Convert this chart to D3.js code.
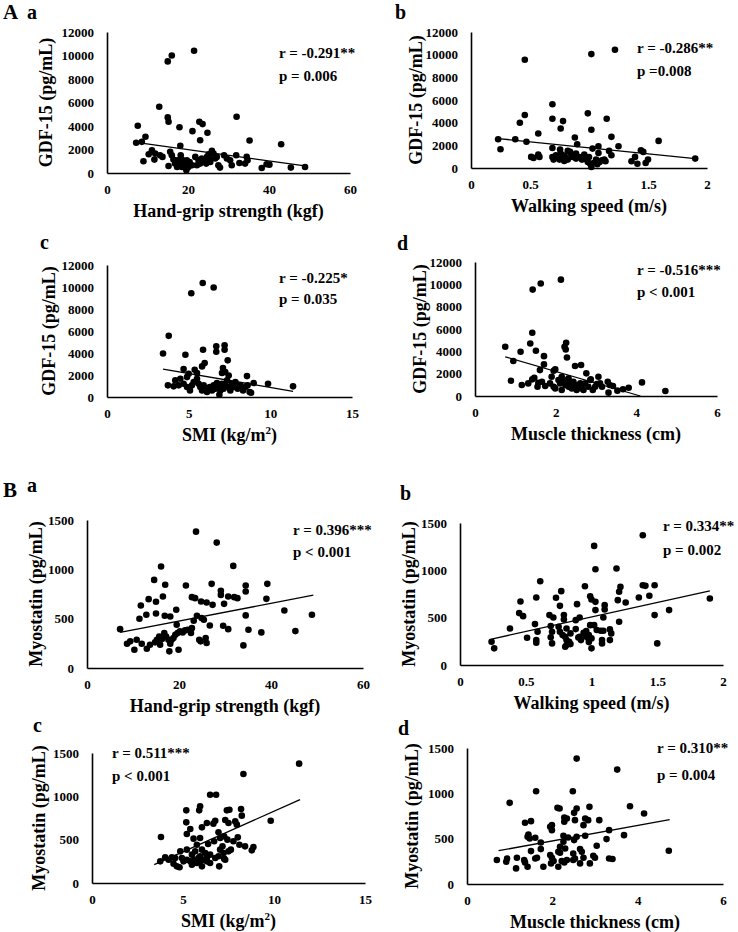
<!DOCTYPE html>
<html><head><meta charset="utf-8">
<script src="https://cdn.jsdelivr.net/npm/d3@7/dist/d3.min.js"></script>
<style>
html,body{margin:0;padding:0;background:#fff;}
svg{display:block;}
text{font-family:"Liberation Serif","Times New Roman",serif;font-weight:bold;fill:#000;}
</style></head>
<body>
<svg id="chart" width="738" height="932"></svg>
<script>
// ---------- DATA ----------
const gdfGrip = [[16.0,10000],[15.0,9500],[21.5,10400],[12.9,5640],[15.0,4730],[15.2,4360],[7.6,4020],[17.9,3900],[22.8,4360],[23.6,4160],[32.0,4790],[21.1,3560],[24.8,3420],[23.0,2790],[35.2,2770],[9.5,3080],[7.2,2570],[8.6,2650],[18.1,2310],[43.0,2450],[11.1,1940],[11.9,1650],[10.3,1600],[13.1,1510],[13.7,1370],[9.0,1000],[11.7,1140],[15.6,1800],[16.0,1510],[16.4,1140],[15.2,600],[16.8,800],[17.4,1080],[18.5,1140],[19.1,740],[18.5,510],[19.6,230],[19.7,1080],[20.4,940],[21.0,660],[22.2,660],[23.0,800],[23.4,1230],[23.8,1080],[24.7,1370],[25.1,1600],[25.5,940],[25.9,1880],[26.3,1650],[26.7,1230],[27.5,660],[27.9,460],[28.9,1510],[29.6,1230],[30.4,1080],[30.8,660],[31.9,1510],[32.7,850],[34.1,800],[34.5,1370],[34.7,1080],[38.2,430],[39.4,740],[40.1,710],[45.4,460],[48.9,510],[21.8,1370],[22.6,1080],[17.3,510],[18.1,800],[20.1,510],[25.3,1230],[27.1,1370],[18.2,1510],[24.5,800]];
const gdfWalk = [[0.456,9550],[1.02,10050],[1.22,10430],[0.69,5620],[0.456,4670],[0.99,4820],[0.414,3990],[0.69,4350],[0.78,4140],[1.15,4350],[0.76,3490],[1.02,3370],[0.57,3040],[0.23,2540],[0.375,2540],[0.47,2310],[0.88,2690],[1.19,2750],[1.59,2390],[0.25,1660],[0.90,2100],[0.69,1770],[1.03,1710],[1.08,1920],[1.25,1920],[0.755,1630],[0.82,1510],[1.08,1330],[1.17,1510],[1.19,1120],[0.51,980],[0.53,890],[0.57,1180],[0.58,980],[0.69,975],[0.70,740],[0.72,1120],[0.73,975],[0.75,740],[0.76,1270],[0.78,1120],[0.80,975],[0.82,740],[0.84,1420],[0.85,1180],[0.86,975],[0.89,830],[0.92,975],[0.94,740],[0.96,1180],[0.97,975],[0.98,740],[0.99,530],[1.00,975],[1.01,380],[1.02,90],[1.04,440],[1.06,740],[1.07,330],[1.09,530],[1.11,680],[1.13,740],[1.14,590],[0.79,620],[0.89,1270],[1.36,590],[1.39,980],[1.41,380],[1.44,1570],[1.46,1420],[1.48,440],[1.50,740],[1.90,830]];
const gdfSmi = [[5.86,10370],[5.16,9430],[6.53,9950],[3.78,5560],[3.43,3960],[4.80,3840],[5.88,4290],[6.69,4620],[6.69,4110],[7.20,4710],[7.20,4290],[7.39,3330],[5.98,3080],[5.82,2780],[4.69,2540],[5.37,2480],[7.10,2630],[7.24,2270],[7.04,2180],[7.45,1960],[8.57,1900],[5.0,2120],[5.51,2180],[4.9,1810],[4.49,1660],[4.18,1510],[3.73,1060],[4.08,970],[4.69,1210],[5.08,600],[4.39,1060],[4.90,910],[5.20,1060],[5.31,1360],[5.51,1660],[5.61,1210],[5.71,910],[5.82,600],[5.92,1060],[6.02,760],[6.12,450],[6.29,910],[6.43,600],[6.53,1060],[6.63,760],[6.73,1270],[6.84,910],[6.94,600],[7.04,1210],[7.14,760],[7.24,1060],[7.35,1510],[7.45,910],[7.55,600],[7.65,1210],[7.76,910],[7.86,1360],[8.0,760],[8.16,1060],[8.33,600],[8.47,910],[8.61,1060],[8.73,450],[6.88,210],[8.82,390],[8.98,1270],[9.86,1210],[11.39,970]];
const gdfMuscle = [[1.43,9530],[1.63,10070],[2.13,10420],[1.42,5660],[0.75,4410],[1.37,4700],[2.26,4760],[2.22,4410],[2.25,4170],[1.13,3960],[1.51,4050],[1.71,3570],[2.28,3450],[0.95,3130],[1.71,2830],[1.99,2380],[2.48,2680],[2.63,2770],[1.61,2320],[1.95,2260],[2.76,2030],[1.90,1730],[1.47,1640],[1.42,1490],[2.15,1730],[0.89,1370],[1.16,980],[1.32,1130],[1.55,830],[2.32,1580],[1.57,1190],[1.66,1280],[1.74,890],[1.86,1130],[1.95,830],[1.99,680],[2.07,1430],[2.11,1130],[2.15,540],[2.19,1280],[2.24,980],[2.28,1430],[2.32,830],[2.36,1130],[2.40,680],[2.44,1280],[2.48,980],[2.52,540],[2.57,830],[2.61,1130],[2.65,680],[2.69,540],[2.73,1130],[2.81,830],[2.86,1430],[2.92,540],[2.98,830],[3.02,1070],[3.10,1130],[3.15,830],[2.87,1490],[3.06,1730],[3.29,1280],[3.34,980],[3.31,300],[3.42,890],[3.53,480],[3.67,600],[3.81,740],[4.14,1220],[4.72,450]];
const myoGrip = [[23.7,1382],[28.2,1271],[31.8,1035],[16.1,1028],[14.6,893],[17.0,843],[21.5,836],[27.1,853],[34.5,836],[39.2,853],[29.1,782],[34.5,775],[13.4,698],[16.5,725],[15.0,671],[22.8,718],[23.5,708],[24.8,674],[26.0,664],[27.3,640],[29.1,741],[30.7,725],[32.0,718],[32.7,708],[39.0,701],[29.8,650],[11.7,634],[12.9,539],[15.0,553],[16.9,529],[18.1,522],[19.4,590],[11.4,499],[23.9,529],[24.9,506],[25.4,489],[23.2,479],[34.5,533],[42.9,583],[48.9,539],[19.5,438],[26.7,431],[29.6,428],[30.7,394],[35.1,388],[37.9,361],[45.3,374],[7.2,394],[8.7,246],[9.4,270],[10.8,286],[10.3,185],[11.9,246],[13.0,195],[13.7,236],[14.8,260],[15.2,286],[15.9,236],[15.7,320],[16.3,293],[16.8,354],[17.2,320],[17.7,286],[17.9,169],[18.1,246],[18.4,286],[18.8,303],[19.2,337],[19.7,354],[19.9,185],[20.2,371],[20.8,361],[21.3,381],[21.9,388],[22.6,354],[22.8,404],[24.4,286],[24.7,270],[25.8,303],[26.0,253],[34.0,229]];
const myoWalk = [[1.39,1370],[1.02,1258],[1.03,1012],[1.19,1019],[0.61,885],[0.95,832],[1.22,825],[1.39,843],[1.41,836],[1.48,843],[0.77,780],[1.21,773],[1.44,731],[0.73,710],[0.99,727],[1.00,692],[1.03,667],[1.36,713],[1.90,702],[0.46,671],[0.58,713],[0.76,625],[0.89,643],[1.10,632],[1.20,685],[1.26,660],[0.45,548],[0.48,516],[0.68,527],[0.71,502],[0.79,527],[0.79,481],[0.91,502],[0.88,474],[1.03,580],[1.10,587],[1.09,502],[1.21,457],[1.48,527],[1.59,580],[0.57,432],[0.38,386],[0.59,351],[0.69,411],[0.70,351],[0.75,404],[0.76,351],[0.78,316],[0.81,386],[0.84,334],[0.88,379],[0.91,299],[0.94,341],[0.96,358],[0.98,316],[0.99,421],[1.00,281],[1.02,421],[1.04,369],[1.07,362],[1.09,362],[1.14,376],[1.15,334],[0.69,292],[0.80,299],[0.81,263],[0.83,246],[0.81,211],[0.80,193],[0.84,221],[0.92,263],[0.96,299],[0.98,270],[0.98,242],[1.08,263],[1.08,228],[0.51,288],[0.24,246],[0.26,176],[0.58,263],[0.58,235],[0.70,228],[0.90,291],[1.00,176],[1.14,263],[1.50,228]];
const myoSmi = [[11.38,1377],[8.32,1258],[6.49,1019],[6.82,1019],[5.94,885],[5.18,838],[5.89,838],[7.41,838],[7.55,846],[8.19,854],[8.23,777],[6.77,719],[6.31,692],[6.04,642],[5.18,700],[5.40,623],[7.32,727],[7.50,692],[7.87,711],[7.96,673],[9.82,719],[6.67,685],[6.95,585],[7.04,519],[5.94,519],[5.58,512],[5.21,565],[3.79,531],[7.26,538],[7.44,500],[7.77,481],[8.01,527],[8.10,442],[8.41,423],[6.38,450],[6.71,481],[7.17,423],[7.63,385],[6.04,385],[5.76,442],[8.87,415],[8.78,377],[4.85,365],[5.21,385],[7.04,385],[5.49,327],[5.67,365],[5.94,308],[6.22,346],[6.31,288],[6.49,327],[6.77,288],[6.95,308],[7.23,346],[7.32,269],[7.50,365],[5.40,250],[5.49,212],[5.62,269],[5.76,231],[5.85,288],[5.94,250],[6.04,192],[6.13,269],[6.31,250],[6.49,231],[5.21,269],[4.57,288],[3.75,250],[4.02,296],[4.21,269],[4.39,296],[4.48,223],[4.66,192],[4.81,181],[4.94,288],[5.03,250],[6.99,192],[7.26,281]];
const myoMuscle = [[2.57,1383],[3.52,1262],[1.62,1023],[2.48,1023],[1.00,895],[2.12,840],[2.17,832],[2.57,833],[2.87,851],[3.82,858],[4.15,777],[2.51,785],[2.28,733],[2.34,722],[2.53,704],[2.77,722],[2.84,704],[3.10,704],[1.36,675],[1.50,693],[2.28,686],[2.73,649],[1.99,649],[1.99,594],[1.95,631],[3.33,594],[1.44,546],[1.42,521],[1.47,502],[1.60,510],[2.26,532],[2.37,513],[2.57,521],[2.77,532],[3.68,539],[1.73,458],[2.26,466],[2.51,484],[3.27,495],[1.50,363],[1.73,385],[2.18,411],[2.30,392],[2.65,385],[2.69,356],[3.04,422],[1.95,319],[1.99,290],[2.14,356],[2.18,345],[2.49,337],[2.53,282],[2.96,312],[3.00,290],[0.70,264],[0.94,282],[0.92,246],[1.17,290],[1.15,172],[1.34,264],[1.36,238],[1.42,191],[1.60,282],[1.64,290],[1.79,191],[1.97,227],[2.03,253],[2.14,191],[2.22,253],[2.28,238],[2.34,264],[2.49,264],[2.65,227],[2.88,227],[3.33,282],[3.41,275],[4.73,367],[2.73,290]];

// trend line end points (x, y)
const trendGdfGrip = [[7.2,2600],[48.9,600]];
const trendGdfWalk = [[0.23,2600],[1.90,830]];
const trendGdfSmi = [[3.43,2540],[11.39,510]];
const trendGdfMuscle = [[0.75,3510],[4.10,0]];
const trendMyoGrip = [[7.2,361],[49.2,738]];
const trendMyoWalk = [[0.24,274],[1.90,783]];
const trendMyoSmi = [[3.42,212],[11.43,962]];
const trendMyoMuscle = [[0.74,367],[4.75,711]];

// tick labels
const gdfTicks = [0,2000,4000,6000,8000,10000,12000];
const myoTicks = [0,500,1000,1500];
const gripTicks = [0,20,40,60];
const walkTicks = [0,0.5,1,1.5,2];
const smiTicks = [0,5,10,15];
const muscleTicks = [0,2,4,6];

// texts
const statsR = ["r = -0.291**","r = -0.286**","r = -0.225*","r = -0.516***","r = 0.396***","r = 0.334**","r = 0.511***","r = 0.310**"];
const statsP = ["p = 0.006","p =0.008","p = 0.035","p < 0.001","p < 0.001","p = 0.002","p < 0.001","p = 0.004"];
const xTitles = ["Hand-grip strength (kgf)","Walking speed (m/s)","SMI (kg/m|2|)","Muscle thickness (cm)","Hand-grip strength (kgf)","Walking speed (m/s)","SMI (kg/m|2|)","Muscle thickness (cm)"];
const yTitles = ["GDF-15 (pg/mL)","Myostatin (pg/mL)"];
const subLabels = ["a","b","c","d","a","b","c","d"];
const groupLabels = ["A","B"];

// ---------- LAYOUT ----------
const svg = d3.select("#chart");
const L = [
 {pts:gdfGrip, tr:trendGdfGrip, xt:gripTicks, yt:gdfTicks, yTitle:0, left:107,right:350,top:32,bottom:173, ytx:-61, rx:279, ry:58, py:81, lx:27, ly:19},
 {pts:gdfWalk, tr:trendGdfWalk, xt:walkTicks, yt:gdfTicks, yTitle:0, left:471,right:707,top:32,bottom:168, ytx:-55, rx:637, ry:53, py:76, lx:395, ly:19},
 {pts:gdfSmi, tr:trendGdfSmi, xt:smiTicks, yt:gdfTicks, yTitle:0, left:107,right:352,top:265,bottom:397, ytx:-58, rx:279, ry:283, py:304, lx:40, ly:249},
 {pts:gdfMuscle, tr:trendGdfMuscle, xt:muscleTicks, yt:gdfTicks, yTitle:0, left:475,right:717,top:262,bottom:396, ytx:-55, rx:637, ry:275, py:297, lx:397, ly:250},
 {pts:myoGrip, tr:trendMyoGrip, xt:gripTicks, yt:myoTicks, yTitle:1, left:87,right:363,top:520,bottom:668, ytx:-51, rx:293, ry:535, py:557, lx:27, ly:492},
 {pts:myoWalk, tr:trendMyoWalk, xt:walkTicks, yt:myoTicks, yTitle:1, left:460,right:723,top:523,bottom:665, ytx:-51, rx:663, ry:531, py:555, lx:400, ly:500},
 {pts:myoSmi, tr:trendMyoSmi, xt:smiTicks, yt:myoTicks, yTitle:1, left:92,right:365,top:753,bottom:883, ytx:-53, rx:112, ry:758, py:781, lx:33, ly:732},
 {pts:myoMuscle, tr:trendMyoMuscle, xt:muscleTicks, yt:myoTicks, yTitle:1, left:467,right:723,top:748,bottom:884, ytx:-55, rx:657, ry:753, py:780, lx:398, ly:735}
];

L.forEach((p,i)=>{
  const xs = d3.scaleLinear().domain([p.xt[0], p.xt[p.xt.length-1]]).range([p.left,p.right]);
  const ys = d3.scaleLinear().domain([p.yt[0], p.yt[p.yt.length-1]]).range([p.bottom,p.top]);
  const g = svg.append("g");

  const xa = g.append("g").attr("transform",`translate(0,${p.bottom})`)
    .call(d3.axisBottom(xs).tickValues(p.xt).tickSize(0).tickSizeOuter(0).tickPadding(12).tickFormat(d=>String(d)));
  const ya = g.append("g").attr("transform",`translate(${p.left},0)`)
    .call(d3.axisLeft(ys).tickValues(p.yt).tickSize(0).tickSizeOuter(0).tickPadding(13).tickFormat(d3.format("d")));
  [xa,ya].forEach(a=>{
    a.select(".domain").attr("stroke","#000").attr("stroke-width",1.6);
    a.selectAll("text").attr("font-size",13).attr("font-family",null).attr("fill","#000");
  });

  // points
  g.append("g").selectAll("circle").data(p.pts).join("circle")
    .attr("cx",d=>xs(d[0])).attr("cy",d=>ys(d[1])).attr("r",3.3).attr("fill","#000");

  // trend line
  g.append("line")
    .attr("x1",xs(p.tr[0][0])).attr("y1",ys(p.tr[0][1]))
    .attr("x2",xs(p.tr[1][0])).attr("y2",ys(p.tr[1][1]))
    .attr("stroke","#000").attr("stroke-width",1.3);

  // x title
  const parts = xTitles[i].split("|");
  const xt = g.append("text").attr("x",(p.left+p.right)/2).attr("y",p.bottom+44)
    .attr("text-anchor","middle").attr("font-size",18);
  xt.append("tspan").text(parts[0]);
  if(parts.length>1){
    xt.append("tspan").attr("font-size",11).attr("dy",-7).text(parts[1]);
    xt.append("tspan").attr("dy",7).text(parts[2]);
  }
  // y title
  g.append("text")
    .attr("transform",`translate(${p.left+p.ytx},${(p.top+p.bottom)/2}) rotate(-90)`)
    .attr("text-anchor","middle").attr("dy","0.35em").attr("font-size",18)
    .text(yTitles[p.yTitle]);

  // stats
  g.append("text").attr("x",p.rx).attr("y",p.ry).attr("font-size",15).text(statsR[i]);
  g.append("text").attr("x",p.rx).attr("y",p.py).attr("font-size",15).text(statsP[i]);

  // sub label
  g.append("text").attr("x",p.lx).attr("y",p.ly).attr("font-size",20).text(subLabels[i]);
});

// big panel letters
svg.append("text").attr("x",3).attr("y",19).attr("font-size",21).text(groupLabels[0]);
svg.append("text").attr("x",3).attr("y",497).attr("font-size",21).text(groupLabels[1]);
</script>
</body></html>
